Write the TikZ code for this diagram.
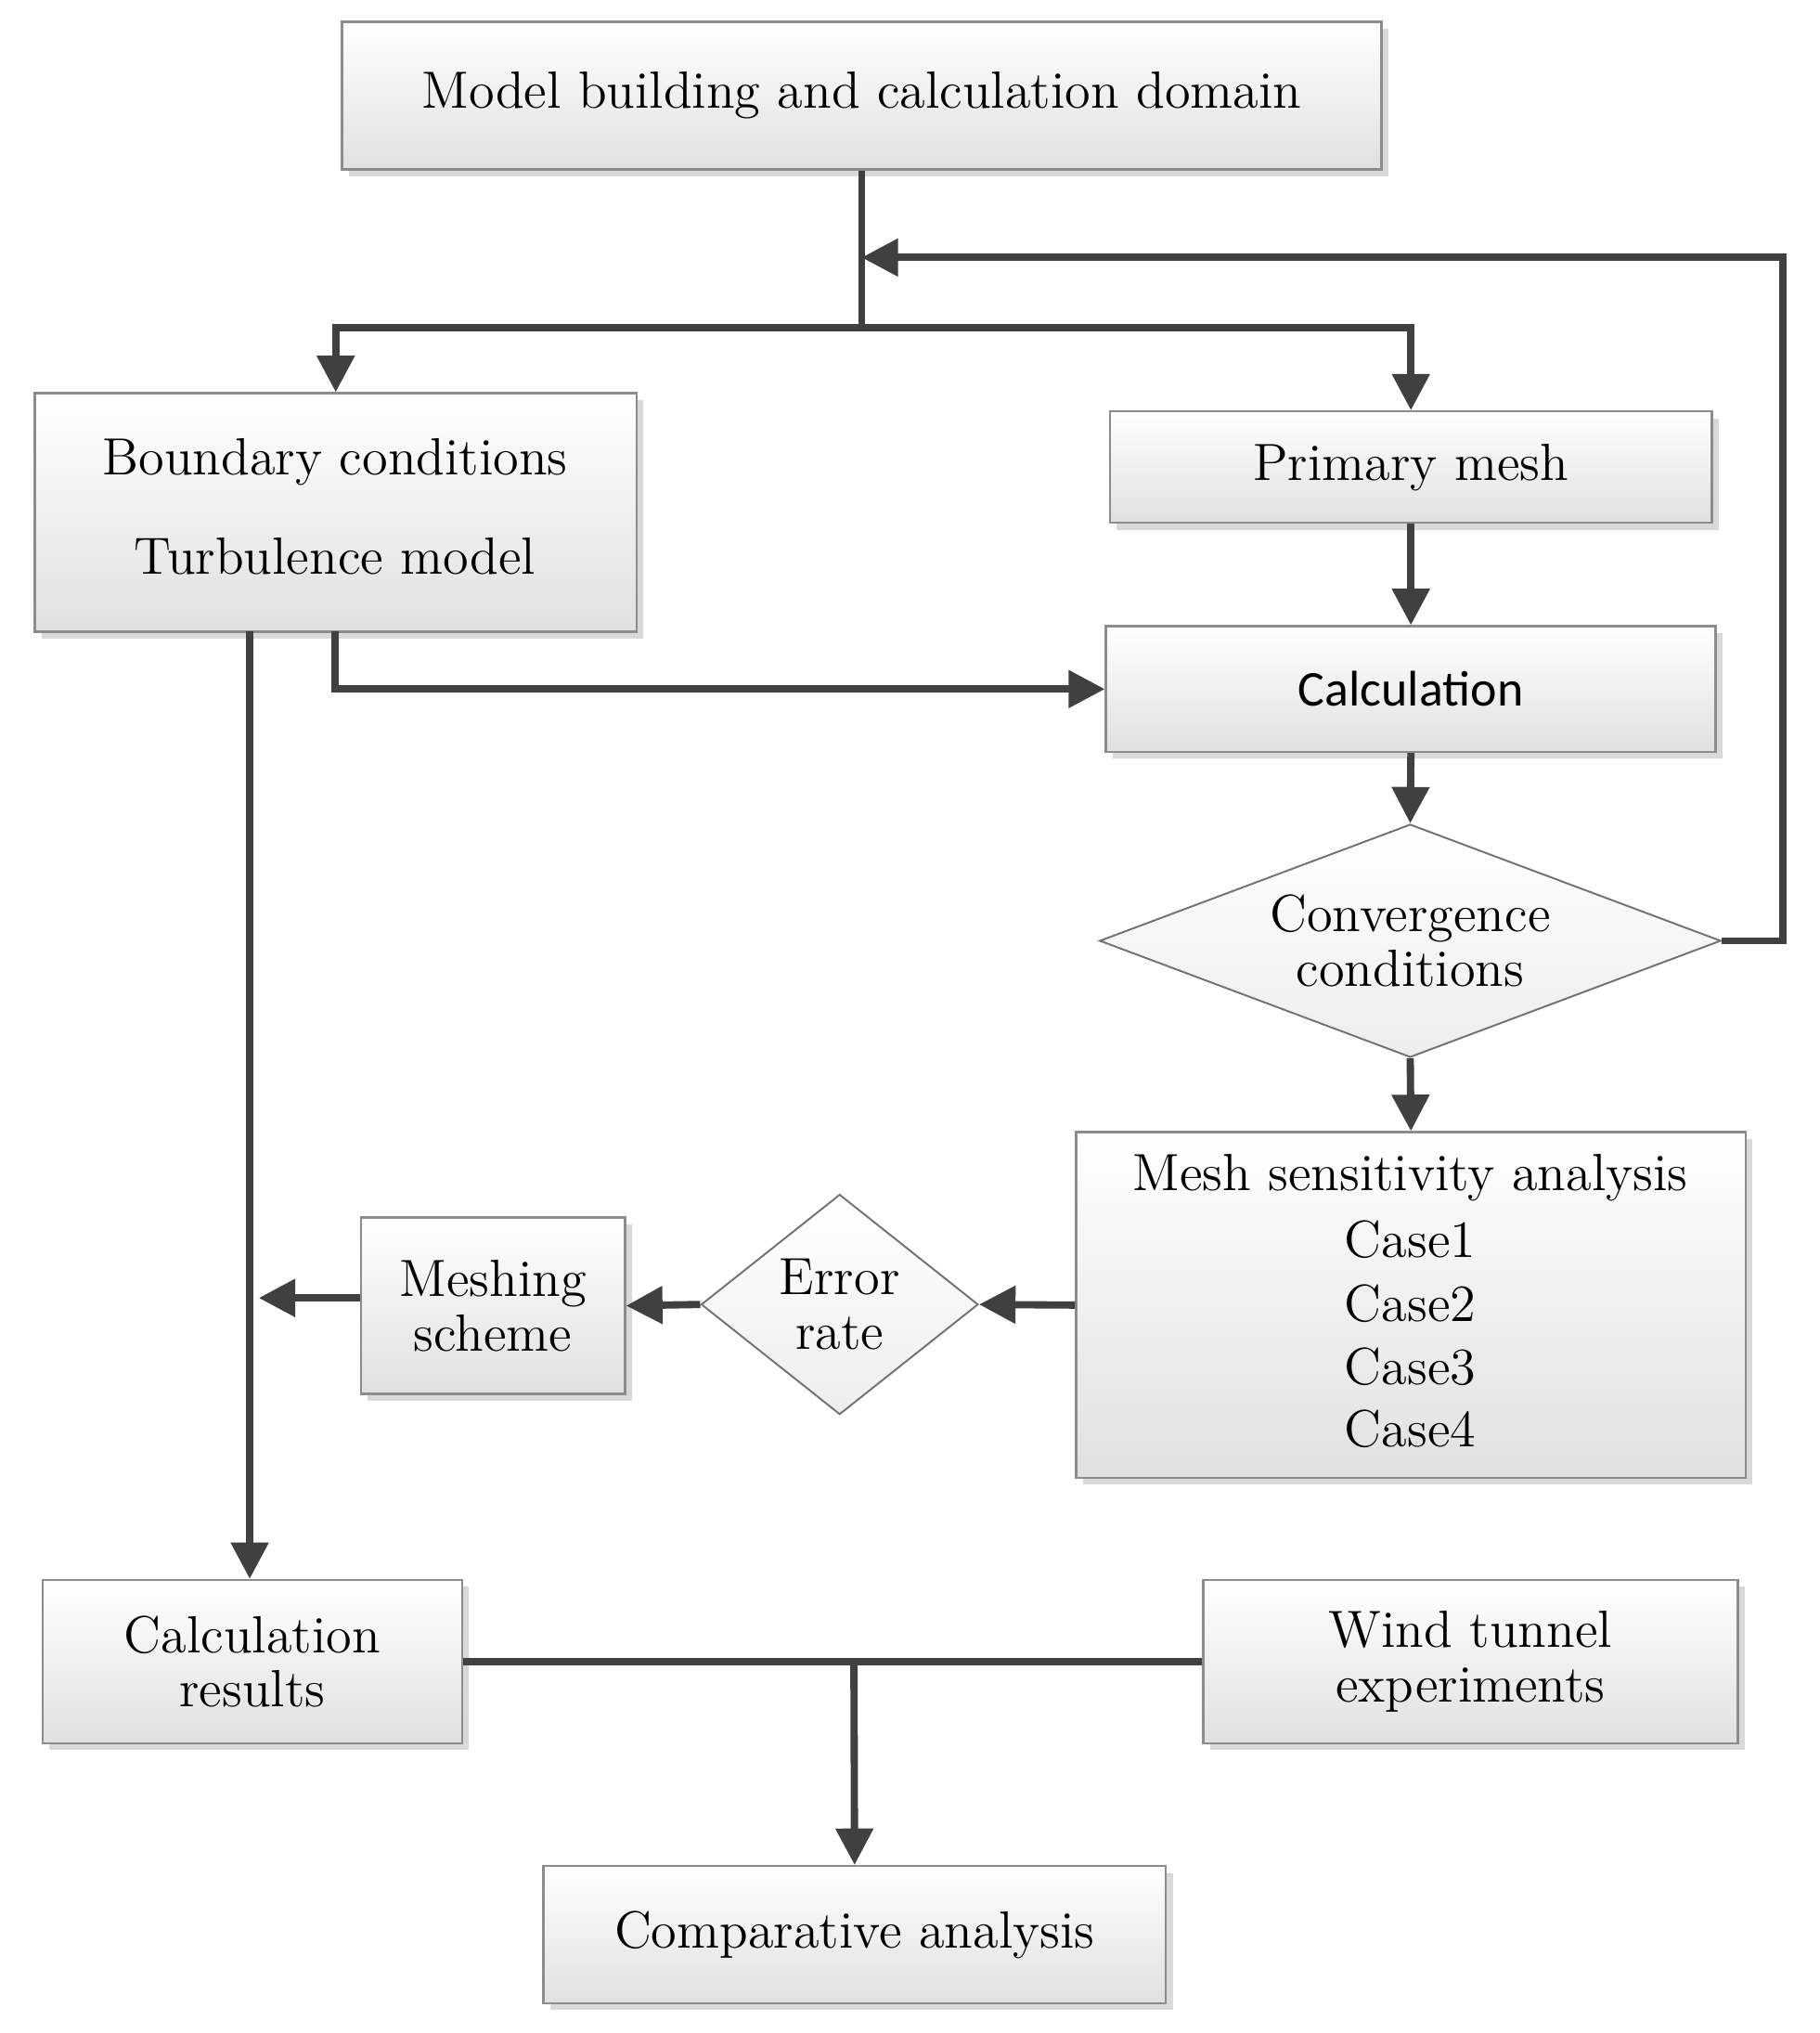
\documentclass[tikz,border=0pt]{standalone}
\usepackage{fontspec}
\newfontfamily\calib{Carlito}
\usetikzlibrary{shapes.geometric,arrows.meta,shadows}
\begin{document}
\begin{tikzpicture}[x=0.01cm,y=-0.01cm,
  every node/.style={font=\fontsize{11.5}{14}\selectfont, align=center, inner sep=0pt},
  box/.style={draw=black!45, line width=0.5pt, top color=white, bottom color=black!12,
    drop shadow={shadow xshift=1.5pt,shadow yshift=-1.5pt,fill=black!25,opacity=0.6}},
  dia/.style={diamond, draw=black!55, line width=0.4pt, top color=white, bottom color=black!7},
  con/.style={draw=black!75, line width=1.6pt},
  arr/.style={con, -{Triangle[length=8pt,width=8pt]}}]
\useasboundingbox (0,0) rectangle (1406,1571);
\node[box, minimum width=8.03cm, minimum height=1.14cm] (top) at (666,74) {Model building and calculation domain};
\node[box, minimum width=4.65cm, minimum height=1.84cm] (bc) at (259.5,396) {};
\node at (259,357) {Boundary conditions};
\node at (259,430) {Turbulence model};
\node[box, minimum width=4.65cm, minimum height=0.86cm] (pm) at (1090.5,361) {Primary mesh};
\node[box, minimum width=4.71cm, minimum height=0.97cm] (calc) at (1090.5,532.5) {\calib\fontsize{11}{14}\selectfont Calculation};
\node[dia, aspect=2.67, minimum width=4.8cm, minimum height=1.8cm] (conv) at (1090,727) {Convergence\\[-2pt]conditions};
\node[box, minimum width=5.17cm, minimum height=2.67cm] (ms) at (1090.5,1008.5) {};
\node at (1090,910) {Mesh sensitivity analysis};
\node at (1090,958) {Case1};
\node at (1090,1007) {Case2};
\node at (1090,1056) {Case3};
\node at (1090,1104) {Case4};
\node[dia, aspect=1.26, minimum width=2.14cm, minimum height=1.7cm] (err) at (649,1008) {Error\\[-2pt]rate};
\node[box, minimum width=2.04cm, minimum height=1.36cm] (msch) at (381,1009) {Meshing\\[-2pt]scheme};
\node[box, minimum width=3.24cm, minimum height=1.26cm] (cr) at (195,1284) {Calculation\\[-2pt]results};
\node[box, minimum width=4.13cm, minimum height=1.26cm] (wt) at (1136.5,1284) {Wind tunnel\\[-2pt]experiments};
\node[box, minimum width=4.81cm, minimum height=1.06cm] (ca) at (660.5,1495) {Comparative analysis};
\coordinate (j1) at (666,253);
\coordinate (fb) at (666,199);
\coordinate (mend) at (200,1003);
\coordinate (j2) at (660,1283);
\draw[con] (top.south) -- (j1);
\draw[arr] (j1) -| (bc.north);
\draw[arr] (j1) -| (pm.north);
\draw[arr] (conv.east) -- (1378,727) |- (fb);
\draw[arr] (pm.south) -- (calc.north);
\draw[arr] (259,488) |- (calc.west);
\draw[arr] (193,488) -- (cr.north -| 193,0);
\draw[arr] (calc.south) -- (conv.north);
\draw[arr] (conv.south) -- (ms.north);
\draw[arr] (ms.west) -- (err.east);
\draw[arr] (err.west) -- (msch.east);
\draw[arr] (msch.west |- mend) -- (mend);
\draw[con] (cr.east) -- (wt.west);
\draw[arr] (j2) -- (ca.north);
\end{tikzpicture}
\end{document}
